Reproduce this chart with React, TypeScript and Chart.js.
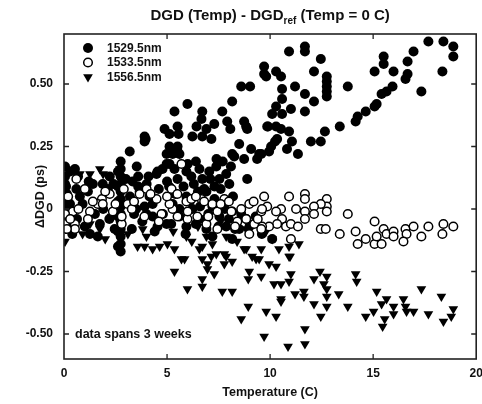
import React, { useEffect, useRef } from "react";
import { Chart, registerables } from "chart.js";
Chart.register(...registerables);

const xTicks = [0, 5, 10, 15, 20];
const yTicks = [-0.5, -0.25, 0, 0.25, 0.5];
const seriesNames = ["1529.5nm", "1533.5nm", "1556.5nm"];
const chartTitle = ["DGD (Temp) - DGD", "ref", " (Temp = 0 C)"];
const xTitle = "Temperature (C)";
const yTitle = "\u0394DGD (ps)";
const note = "data spans 3 weeks";

const s1529: [number, number][] = [
  [9.71, 0.57], [9.71, 0.54], [8.6, 0.49], [9.03, 0.49], [8.16, 0.43], [5.36, 0.39], [5.99, 0.42], [6.71, 0.39],
  [7.68, 0.39], [8.74, 0.35], [3.91, 0.29], [3.96, 0.28], [4.88, 0.32], [5.12, 0.3], [5.51, 0.33], [5.56, 0.3],
  [6.43, 0.33], [6.67, 0.36], [6.91, 0.32], [7.29, 0.34], [6.71, 0.29], [7.15, 0.28], [6.23, 0.29], [7.92, 0.35],
  [8.07, 0.32], [8.84, 0.33], [8.89, 0.32], [9.86, 0.33], [3.19, 0.23], [5.51, 0.25], [5.27, 0.22], [8.16, 0.22],
  [8.5, 0.26], [9.08, 0.24], [9.47, 0.22], [10.92, 0.63], [11.69, 0.65], [11.69, 0.63], [12.46, 0.6], [9.81, 0.53],
  [10.29, 0.55], [10.53, 0.53], [12.13, 0.55], [12.75, 0.53], [12.75, 0.51], [12.75, 0.49], [12.75, 0.47], [12.75, 0.45],
  [13.77, 0.49], [10.58, 0.48], [11.21, 0.49], [11.69, 0.46], [10.58, 0.44], [10.29, 0.41], [10.1, 0.38], [10.58, 0.38],
  [11.01, 0.4], [11.69, 0.39], [12.13, 0.43], [9.9, 0.33], [10.29, 0.33], [10.53, 0.32], [10.92, 0.31], [10.24, 0.27],
  [11.06, 0.27], [10.82, 0.24], [11.35, 0.22], [9.95, 0.23], [9.57, 0.22], [12.46, 0.27], [12.66, 0.31], [13.38, 0.33],
  [14.15, 0.35], [14.25, 0.37], [14.64, 0.39], [15.07, 0.41], [15.17, 0.42], [15.41, 0.46], [15.65, 0.47], [15.94, 0.49],
  [15.07, 0.55], [15.51, 0.58], [15.51, 0.61], [15.99, 0.55], [16.57, 0.52], [16.67, 0.54], [16.67, 0.59], [16.96, 0.63],
  [17.34, 0.47], [17.68, 0.67], [18.41, 0.67], [18.89, 0.65], [18.89, 0.61], [18.36, 0.55], [8.89, 0.12],
  [3.91, 0.27], [4.54, 0.15], [4.98, 0.18], [4.98, 0.22], [5.12, 0.25], [5.51, 0.23], [8.74, 0.2], [8.26, 0.21],
  [9.37, 0.2], [10.05, 0.25], [10.34, 0.28], [11.98, 0.27],
  [0.05, 0.13], [0.05, 0.1], [0.14, 0.06], [0.53, 0.16], [0.68, 0.13], [0.29, 0.02], [0.77, 0.05], [0.05, -0.03],
  [0.63, -0.04], [1.01, -0.07], [1.26, -0.1], [1.64, -0.11], [1.74, -0.06], [1.16, 0.07], [1.4, 0.1], [1.88, 0.1],
  [2.13, 0.08], [2.22, 0.13], [2.46, -0.08],
  [2.75, 0.19], [2.75, 0.16], [2.75, 0.13], [2.75, 0.1], [2.75, 0.07], [2.75, 0.04], [2.75, 0.01], [2.75, -0.02],
  [2.75, -0.05], [2.75, -0.08], [2.75, -0.11], [2.75, -0.14], [2.75, -0.17],
  [2.62, 0.15], [2.62, 0.09], [2.62, 0.03], [2.62, -0.03], [2.62, -0.09], [2.62, -0.15],
  [3.29, -0.08], [3.33, 0.11], [3.53, 0.17], [4.01, 0.1], [3.67, 0.07], [4.15, 0.05], [3.91, 0.01], [4.49, 0.14],
  [4.78, 0.16], [4.3, -0.03], [4.54, -0.07], [4.98, -0.06], [5.12, 0.18], [5.6, 0.22], [5.36, 0.16], [5.51, 0.12],
  [5.94, 0.15], [6.18, 0.13], [6.57, 0.16], [6.71, 0.12], [7.05, 0.15], [7.39, 0.17], [7.54, 0.12], [7.87, 0.14],
  [8.02, 0.1], [6.91, 0.07], [5.94, 0.05], [5.27, 0.02], [6.23, 0.0], [7.2, 0.01], [5.6, -0.03], [6.57, -0.04],
  [7.54, -0.03], [8.16, -0.01], [8.84, -0.04], [5.94, -0.07], [6.91, -0.08], [7.87, -0.07], [8.5, -0.08], [7.2, -0.11],
  [8.16, -0.12], [10.1, -0.12], [0.05, 0.17], [0.05, 0.01], [0.19, 0.03], [0.29, -0.01], [0.43, -0.04],
  [3.0, 0.12], [3.2, 0.05], [3.4, -0.02], [3.6, 0.09], [3.8, -0.05], [4.1, 0.13], [4.3, 0.02], [4.4, -0.09],
  [4.6, 0.08], [4.8, -0.02], [5.0, 0.11], [5.2, -0.06], [5.4, 0.06], [5.6, 0.0], [5.8, 0.09], [5.9, -0.1],
  [6.1, 0.03], [6.3, 0.1], [6.4, -0.06], [6.6, 0.01], [6.8, 0.08], [7.0, -0.02], [7.1, 0.12], [7.3, 0.04],
  [7.5, -0.07], [7.6, 0.08], [7.8, 0.0], [8.0, -0.04], [8.2, 0.05], [8.3, -0.08], [8.6, -0.02], [9.0, -0.07],
  [9.3, -0.03], [9.6, -0.1], [2.4, 0.1], [2.2, -0.04], [1.9, 0.0], [1.5, -0.02], [1.2, 0.11], [0.9, 0.02],
  [0.6, 0.08], [0.3, 0.15], [0.2, -0.07], [0.4, -0.1], [0.1, 0.09],
  [7.7, 0.19], [8.1, 0.17], [7.4, 0.2], [6.4, 0.19], [6.0, 0.18], [3.6, 0.13], [6.5, 0.07], [7.3, 0.09],
  [5.1, 0.09], [4.0, -0.02], [6.9, -0.04], [3.5, 0.0],
];

const s1533: [number, number][] = [
  [9.71, 0.05], [10.92, 0.05], [11.69, 0.06], [11.69, 0.04], [12.75, 0.04], [12.75, 0.01], [12.75, -0.01], [12.46, 0.02],
  [12.13, 0.01], [12.13, -0.02], [11.69, -0.01], [11.69, -0.04], [11.26, 0.0], [10.53, 0.0], [9.86, 0.01], [9.57, -0.01],
  [10.29, -0.01], [10.58, -0.04], [10.34, -0.06], [9.95, -0.07], [9.61, -0.07], [10.77, -0.07], [11.01, -0.06], [11.35, -0.07],
  [12.46, -0.08], [12.7, -0.08], [11.01, -0.12], [13.77, -0.02], [13.38, -0.1], [14.15, -0.09], [15.07, -0.05], [14.25, -0.14],
  [14.64, -0.12], [15.07, -0.14], [15.41, -0.14], [15.17, -0.11], [15.51, -0.08], [15.65, -0.1], [15.99, -0.09], [15.99, -0.11],
  [16.57, -0.08], [16.62, -0.1], [16.47, -0.13], [16.96, -0.07], [17.34, -0.11], [17.68, -0.07], [18.41, -0.06], [18.36, -0.1],
  [18.89, -0.07],
  [1.01, 0.08], [1.84, 0.04], [1.26, -0.01], [0.43, -0.01], [0.05, -0.02], [0.05, -0.06], [0.53, -0.06], [0.53, -0.08],
  [0.14, -0.08], [1.64, 0.02], [1.88, 0.02], [2.22, 0.06], [2.37, -0.01], [3.09, 0.02], [3.29, 0.0], [3.67, 0.06],
  [4.01, 0.08], [4.49, 0.04], [4.73, -0.02], [2.8, -0.06], [2.8, -0.03], [5.7, 0.18], [5.22, 0.08], [5.94, 0.03],
  [6.67, 0.04], [7.2, 0.02], [7.78, 0.04], [7.44, -0.01], [8.12, -0.01], [8.6, 0.0], [8.99, 0.02], [9.61, 0.0],
  [8.41, -0.05], [8.84, -0.04], [9.23, -0.06], [9.57, -0.08], [8.99, -0.1], [7.44, -0.08], [6.91, -0.06], [6.47, -0.03],
  [5.99, -0.04], [5.51, -0.03], [5.27, 0.0], [5.12, 0.02], [1.16, -0.04], [6.18, 0.04],
  [0.2, 0.05], [0.3, -0.04], [0.7, 0.0], [1.4, 0.03], [2.0, 0.07], [2.5, 0.02], [2.9, 0.08], [3.4, 0.03],
  [3.9, -0.03], [4.2, 0.06], [4.6, -0.05], [5.0, 0.05], [5.5, 0.06], [6.0, -0.01], [6.4, 0.05], [6.8, 0.03],
  [7.0, -0.03], [7.6, 0.02], [8.0, 0.03], [8.3, -0.07], [9.2, 0.03], [9.4, -0.04], [0.6, 0.12],
];

const s1556: [number, number][] = [
  [9.57, -0.27], [9.95, -0.22], [10.29, -0.23], [10.19, -0.3], [10.53, -0.3], [10.92, -0.19], [11.01, -0.26], [10.92, -0.29],
  [10.53, -0.36], [10.53, -0.37], [11.21, -0.34], [11.64, -0.33], [11.64, -0.35], [9.81, -0.41], [10.29, -0.43], [9.71, -0.51],
  [10.87, -0.55], [11.69, -0.48], [11.69, -0.54], [12.13, -0.28], [12.42, -0.25], [12.75, -0.27], [12.61, -0.3], [12.75, -0.32],
  [12.75, -0.35], [12.13, -0.38], [12.75, -0.39], [12.46, -0.43], [13.33, -0.34], [13.77, -0.39], [14.15, -0.26], [14.2, -0.29],
  [14.64, -0.43], [15.17, -0.33], [15.02, -0.41], [15.41, -0.38], [15.65, -0.36], [15.56, -0.44], [15.46, -0.47], [15.99, -0.39],
  [15.99, -0.42], [16.47, -0.36], [16.57, -0.39], [16.62, -0.41], [16.96, -0.41], [17.34, -0.32], [17.68, -0.42], [18.31, -0.35],
  [18.41, -0.45], [18.89, -0.4], [18.79, -0.43],
  [5.36, -0.25], [5.7, -0.2], [5.99, -0.32], [6.71, -0.28], [6.71, -0.31], [6.71, -0.2], [6.96, -0.22], [7.29, -0.26],
  [6.96, -0.24], [7.68, -0.33], [8.16, -0.33], [7.78, -0.22], [8.16, -0.21], [7.78, -0.18], [8.6, -0.44], [8.94, -0.39],
  [8.99, -0.25], [8.94, -0.28], [9.47, -0.2],
  [1.26, 0.14], [1.74, 0.16], [1.9, 0.14], [2.71, 0.16], [0.77, 0.14], [0.05, -0.13], [3.57, -0.15], [3.91, -0.15],
  [4.3, -0.16], [4.64, -0.15], [5.02, -0.14], [5.36, -0.16], [5.85, -0.2], [6.57, -0.16], [6.71, -0.15], [7.15, -0.19],
  [7.39, -0.18], [7.87, -0.19], [8.74, -0.16], [8.84, -0.16], [9.13, -0.19], [9.32, -0.2], [10.1, -0.12], [10.92, -0.15],
  [11.4, -0.14], [1.26, -0.06], [1.74, -0.08], [3.82, -0.08], [4.64, -0.06], [5.94, -0.11], [6.91, -0.11], [7.87, -0.11],
  [8.84, -0.08], [9.13, -0.06], [10.43, -0.16], [10.97, -0.19], [9.57, -0.16],
  [2.3, -0.03], [3.1, -0.1], [4.0, -0.11], [5.3, -0.09], [6.2, -0.13], [6.5, -0.07], [7.2, -0.14], [7.6, -0.05],
  [8.4, -0.13], [9.8, -0.09], [0.3, -0.08], [0.9, -0.1], [2.0, -0.12],
];

const FONT = '"Liberation Sans", Arial, Helvetica, sans-serif';
const INK = "#111";
const R_FILLED = 5;
const R_OPEN = 4.3;
const W_OPEN = 1.5;
const R_TRI = 5.6;

const pts = (a: [number, number][]) => a.map(([x, y]) => ({ x, y }));

function drawMarker(ctx: CanvasRenderingContext2D, kind: number, x: number, y: number) {
  ctx.save();
  ctx.beginPath();
  if (kind === 0) {
    ctx.arc(x, y, R_FILLED, 0, Math.PI * 2);
    ctx.fillStyle = "#000";
    ctx.fill();
  } else if (kind === 1) {
    ctx.arc(x, y, R_OPEN, 0, Math.PI * 2);
    ctx.fillStyle = "#fff";
    ctx.fill();
    ctx.lineWidth = W_OPEN;
    ctx.strokeStyle = "#000";
    ctx.stroke();
  } else {
    const r = R_TRI;
    ctx.moveTo(x - r * 0.866, y - r * 0.5);
    ctx.lineTo(x + r * 0.866, y - r * 0.5);
    ctx.lineTo(x, y + r);
    ctx.closePath();
    ctx.fillStyle = "#000";
    ctx.fill();
  }
  ctx.restore();
}

const decorPlugin = {
  id: "decor",
  afterDraw(chart: any) {
    const { ctx, chartArea } = chart;
    const { left, right, top, bottom } = chartArea;
    const xs = chart.scales.x;
    const ys = chart.scales.y;
    ctx.save();
    ctx.strokeStyle = "#222";
    ctx.lineWidth = 1.6;
    ctx.strokeRect(left, top, right - left, bottom - top);
    ctx.lineWidth = 1.3;
    ctx.beginPath();
    const tl = 5;
    xTicks.forEach((v) => {
      const px = xs.getPixelForValue(v);
      if (px <= left + 1 || px >= right - 1) return;
      ctx.moveTo(px, bottom);
      ctx.lineTo(px, bottom - tl);
      ctx.moveTo(px, top);
      ctx.lineTo(px, top + tl);
    });
    yTicks.forEach((v) => {
      const py = ys.getPixelForValue(v);
      ctx.moveTo(left, py);
      ctx.lineTo(left + tl, py);
      ctx.moveTo(right, py);
      ctx.lineTo(right - tl, py);
    });
    ctx.stroke();

    const cx = (left + right) / 2;
    const mainFont = `bold 15px ${FONT}`;
    const subFont = `bold 10px ${FONT}`;
    ctx.fillStyle = INK;
    ctx.textBaseline = "alphabetic";
    ctx.textAlign = "left";
    ctx.font = mainFont;
    const w1 = ctx.measureText(chartTitle[0]).width;
    const w3 = ctx.measureText(chartTitle[2]).width;
    ctx.font = subFont;
    const w2 = ctx.measureText(chartTitle[1]).width;
    let tx = cx - (w1 + w2 + w3) / 2;
    const ty = 20;
    ctx.font = mainFont;
    ctx.fillText(chartTitle[0], tx, ty);
    tx += w1;
    ctx.font = subFont;
    ctx.fillText(chartTitle[1], tx, ty + 4);
    tx += w2;
    ctx.font = mainFont;
    ctx.fillText(chartTitle[2], tx, ty);

    ctx.font = `bold 12.5px ${FONT}`;
    ctx.textAlign = "center";
    ctx.textBaseline = "middle";
    ctx.fillText(xTitle, cx, 393);

    ctx.save();
    ctx.translate(41, (top + bottom) / 2);
    ctx.rotate(-Math.PI / 2);
    ctx.fillText(yTitle, 0, 0);
    ctx.restore();

    ctx.font = `bold 12px ${FONT}`;
    ctx.textAlign = "left";
    ctx.textBaseline = "middle";
    seriesNames.forEach((name, i) => {
      const ly = 48 + i * 14.5;
      drawMarker(ctx, i, 88, ly);
      ctx.fillStyle = INK;
      ctx.fillText(name, 107, ly + 0.5);
    });

    ctx.font = `bold 12.5px ${FONT}`;
    ctx.fillText(note, 75, ys.getPixelForValue(-0.5) + 0.5);
    ctx.restore();
  },
};

export default function App() {
  const ref = useRef<HTMLCanvasElement | null>(null);
  useEffect(() => {
    const canvas = ref.current;
    if (!canvas) return;
    const tickFont = { family: FONT, size: 12, weight: "bold" as const };
    const chart = new Chart(canvas, {
      type: "scatter",
      data: {
        datasets: [
          {
            label: seriesNames[0],
            data: pts(s1529),
            pointStyle: "circle",
            pointRadius: R_FILLED,
            pointBackgroundColor: "#000",
            pointBorderColor: "#000",
            pointBorderWidth: 0,
            order: 3,
          },
          {
            label: seriesNames[1],
            data: pts(s1533),
            pointStyle: "circle",
            pointRadius: R_OPEN,
            pointBackgroundColor: "#fff",
            pointBorderColor: "#000",
            pointBorderWidth: W_OPEN,
            order: 1,
          },
          {
            label: seriesNames[2],
            data: pts(s1556),
            pointStyle: "triangle",
            rotation: 180,
            pointRadius: R_TRI,
            pointBackgroundColor: "#000",
            pointBorderColor: "#000",
            pointBorderWidth: 0,
            order: 2,
          },
        ],
      },
      options: {
        animation: false,
        responsive: false,
        devicePixelRatio: 1,
        layout: { padding: { left: 0, right: 5, top: 34, bottom: 0 } },
        plugins: {
          legend: { display: false },
          title: { display: false },
          tooltip: { enabled: false },
        },
        events: [],
        scales: {
          x: {
            type: "linear",
            min: 0,
            max: 20,
            afterBuildTicks: (s: any) => {
              s.ticks = xTicks.map((v) => ({ value: v }));
            },
            afterFit: (s: any) => {
              s.height = 45;
              s.paddingLeft = 0;
              s.paddingRight = 0;
            },
            grid: { display: false, drawTicks: false },
            border: { display: false },
            ticks: {
              padding: 7,
              font: tickFont,
              color: INK,
              maxRotation: 0,
              autoSkip: false,
              callback: (v: any) => String(v),
            },
          },
          y: {
            type: "linear",
            min: -0.6,
            max: 0.7,
            afterBuildTicks: (s: any) => {
              s.ticks = yTicks.map((v) => ({ value: v }));
            },
            afterFit: (s: any) => {
              s.width = 64;
              s.paddingTop = 0;
              s.paddingBottom = 0;
            },
            grid: { display: false, drawTicks: false },
            border: { display: false },
            ticks: {
              padding: 11,
              font: tickFont,
              color: INK,
              autoSkip: false,
              callback: (v: any) => (Number(v) === 0 ? "0" : Number(v).toFixed(2)),
            },
          },
        },
      },
      plugins: [decorPlugin],
    });
    return () => chart.destroy();
  }, []);
  return (
    <div style={{ position: "absolute", left: 0, top: 0, width: 482, height: 404, overflow: "hidden", background: "#fff" }}>
      <canvas ref={ref} width={482} height={404} style={{ width: 482, height: 404, display: "block" }} />
    </div>
  );
}
